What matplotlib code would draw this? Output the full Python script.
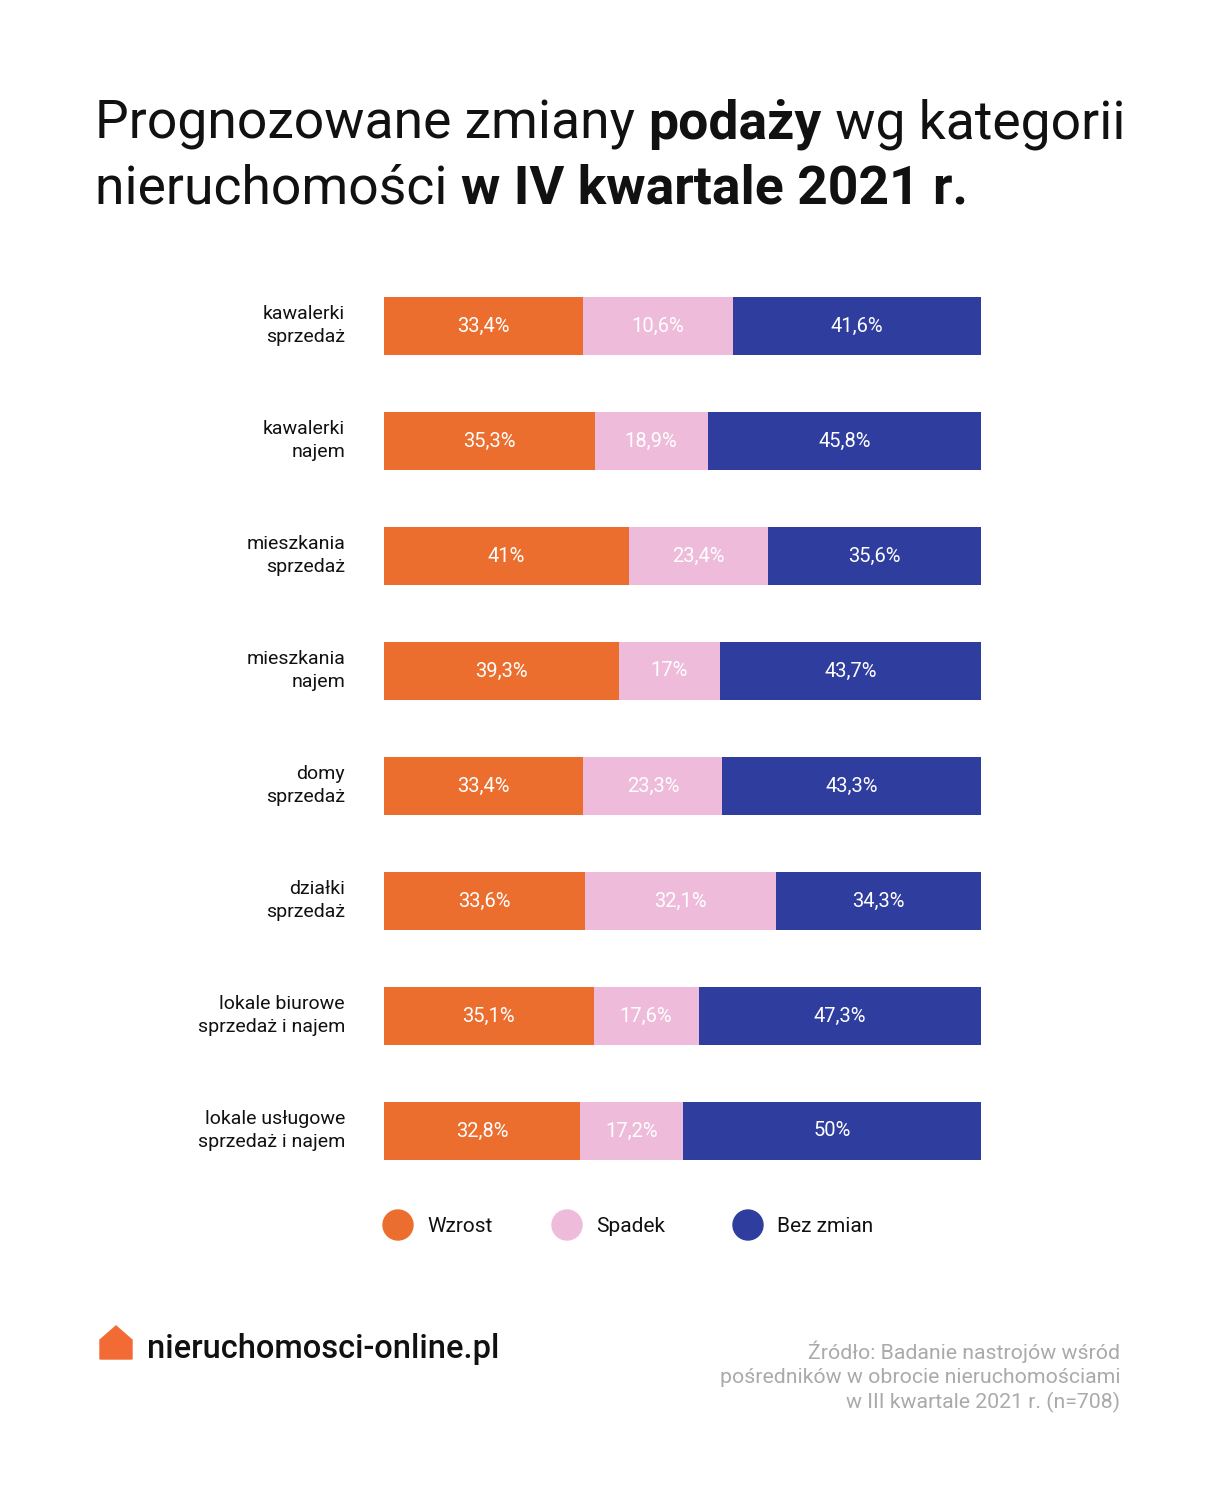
import numpy as np
import matplotlib
matplotlib.use("Agg")
import matplotlib.pyplot as plt
from matplotlib.patches import Polygon, Circle
from matplotlib.transforms import ScaledTranslation

plt.rcParams['font.family'] = ['Roboto', 'DejaVu Sans']

categories = [
    "kawalerki\nsprzedaż",
    "kawalerki\nnajem",
    "mieszkania\nsprzedaż",
    "mieszkania\nnajem",
    "domy\nsprzedaż",
    "działki\nsprzedaż",
    "lokale biurowe\nsprzedaż i najem",
    "lokale usługowe\nsprzedaż i najem",
]
wzrost = [33.4, 35.3, 41.0, 39.3, 33.4, 33.6, 35.1, 32.8]
spadek = [10.6, 18.9, 23.4, 17.0, 23.3, 32.1, 17.6, 17.2]
bez_zmian = [41.6, 45.8, 35.6, 43.7, 43.3, 34.3, 47.3, 50.0]
series_names = ["Wzrost", "Spadek", "Bez zmian"]

ORANGE = "#EB6E2F"
PINK = "#EEBCDA"
NAVY = "#2F3E9E"
W, H = 1230, 1500


def fmt(v):
    s = f"{v:.1f}".rstrip("0").rstrip(".")
    return s.replace(".", ",") + "%"


fig = plt.figure(figsize=(W / 100, H / 100), dpi=100)
fig.patch.set_facecolor("white")

ax = fig.add_axes([384 / W, 1 - 1188.5 / H, 597 / W, 920 / H])
y = np.arange(len(categories))
wz = np.array(wzrost)
sp = np.array(spadek)
bz = np.array(bez_zmian)
# pink segment fills the gap between orange and the right-aligned navy part
ax.barh(y, wz, left=0, height=0.51, color=ORANGE)
ax.barh(y, 100 - wz - bz, left=wz, height=0.51, color=PINK)
ax.barh(y, bz, left=100 - bz, height=0.51, color=NAVY)

for i in range(len(categories)):
    ax.text(wz[i] / 2, y[i], fmt(wz[i]), ha="center", va="center",
            color="white", fontsize=14.5)
    ax.text(wz[i] + (100 - wz[i] - bz[i]) / 2, y[i], fmt(sp[i]), ha="center",
            va="center", color="white", fontsize=14.5)
    ax.text(100 - bz[i] / 2, y[i], fmt(bz[i]), ha="center", va="center",
            color="white", fontsize=14.5)

ax.set_xlim(0, 100)
ax.set_ylim(len(categories) - 0.5, -0.5)
ax.set_yticks(y)
ax.set_yticklabels(categories, fontsize=14, color="#111111", linespacing=1.35)
ax.tick_params(axis="y", length=0, pad=28)
shift = ScaledTranslation(0, 5 / 100, fig.dpi_scale_trans)
for lbl in ax.get_yticklabels():
    lbl.set_transform(lbl.get_transform() + shift)
ax.set_xticks([])
for s in ax.spines.values():
    s.set_visible(False)

# title with bold runs
renderer = fig.canvas.get_renderer()
title_lines = [
    [("Prognozowane zmiany ", "normal"), ("podaży", "bold"),
     (" wg kategorii", "normal")],
    [("nieruchomości ", "normal"), ("w IV kwartale 2021 r.", "bold")],
]
for k, line in enumerate(title_lines):
    x0 = 95 / W
    yy = 1 - (124 + k * 65) / H
    for txt, wt in line:
        t = fig.text(x0, yy, txt, fontsize=38.5, fontweight=wt,
                     ha="left", va="center", color="#111111")
        bb = t.get_window_extent(renderer=renderer)
        x0 += bb.width / W

# legend
leg_ax = fig.add_axes([0, 0, 1, 1], facecolor="none")
leg_ax.set_xlim(0, W)
leg_ax.set_ylim(H, 0)
leg_ax.axis("off")
for name, col, cx in zip(series_names, [ORANGE, PINK, NAVY], [398, 567, 748]):
    leg_ax.add_patch(Circle((cx, 1225), 15, color=col))
    leg_ax.text(cx + 29, 1226, name, ha="left", va="center", fontsize=15,
                color="#111111")

# logo
leg_ax.add_patch(Polygon([(100, 1359), (100, 1340), (116, 1326), (132, 1340),
                          (132, 1359)], closed=True, color="#F26B35"))
leg_ax.text(147, 1349, "nieruchomosci-online.pl", ha="left", va="center",
            fontsize=23.5, fontweight="medium", color="#111111")

source = ("Źródło: Badanie nastrojów wśród\n"
          "pośredników w obrocie nieruchomościami\n"
          "w III kwartale 2021 r. (n=708)")
leg_ax.text(1120, 1377, source, ha="right", va="center", fontsize=15.3,
            color="#AAAAAA", linespacing=1.3, multialignment="right")

fig.savefig("out.png", dpi=100)
